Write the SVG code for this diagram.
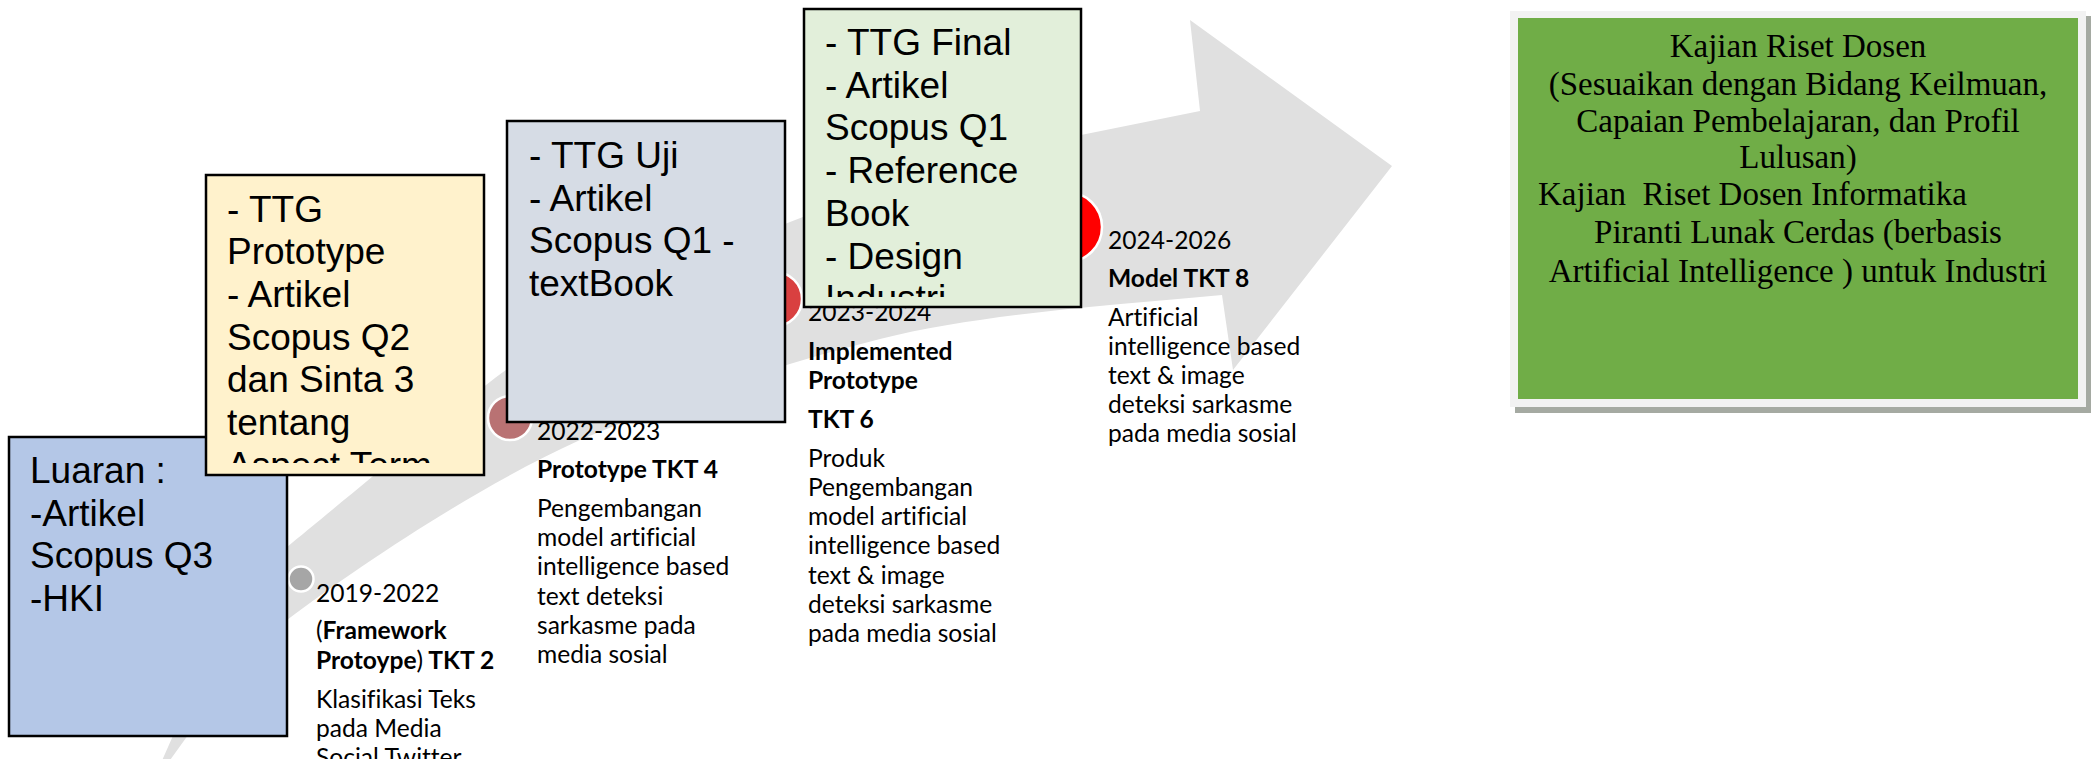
<svg xmlns="http://www.w3.org/2000/svg" width="2091" height="759" viewBox="0 0 2091 759">
<style>
.box{stroke:#000;stroke-width:2.5}
.big{font-family:"Liberation Sans",Arial,sans-serif;font-size:37px;fill:#000}
.sm{font-family:Lato,"Noto Sans",sans-serif;font-size:24.6px;fill:#000;font-variant-ligatures:none}
.b{font-weight:bold}
.n{font-weight:normal}
.serif{font-family:"Liberation Serif","Times New Roman",serif;font-size:33px;fill:#000}
.dot{stroke:#fff;stroke-width:2.5}
</style>
<defs>
<clipPath id="clipY"><rect x="206" y="175" width="278" height="288"/></clipPath>
<clipPath id="clipF"><rect x="804" y="9" width="277" height="288"/></clipPath>
</defs>
<rect width="2091" height="759" fill="#fff"/>
<g id="connectors">
<path id="arrow" fill="#e0e0e0" d="M 150 790 Q 205 650 287 547 C 330 512 440 420 495 378 C 580 314 700 258 790 222 C 890 182 1000 152 1081 135 L 1200 111 L 1190 20 L 1392 166 L 1233 370 L 1222 295 C 1112 305 980 314 880 339 C 780 364 680 398 580 440 C 480 485 357 567 287 620 Q 215 690 150 790 Z"/>
</g>
<g id="milestone1">
<circle class="dot" cx="301" cy="579" r="12.5" fill="#a6a6a6"/>
<text class="sm" x="316" y="602">2019-2022</text>
<text class="sm" x="316" y="639">(<tspan class="b">Framework</tspan></text>
<text class="sm b" x="316" y="669">Protoype<tspan class="n">)</tspan> TKT 2</text>
<text class="sm" x="316" y="708">Klasifikasi Teks</text>
<text class="sm" x="316" y="737">pada Media</text>
<text class="sm" x="316" y="766">Social Twitter</text>
</g>
<g id="milestone2">
<circle class="dot" cx="510" cy="418" r="22" fill="#b97273"/>
<text class="sm" x="537" y="440">2022-2023</text>
<text class="sm b" x="537" y="478">Prototype TKT 4</text>
<text class="sm" x="537" y="517">Pengembangan</text>
<text class="sm" x="537" y="546">model artificial</text>
<text class="sm" x="537" y="575">intelligence based</text>
<text class="sm" x="537" y="605">text deteksi</text>
<text class="sm" x="537" y="634">sarkasme pada</text>
<text class="sm" x="537" y="663">media sosial</text>
</g>
<g id="milestone3">
<circle class="dot" cx="775" cy="299" r="27" fill="#d94040"/>
<text class="sm" x="808" y="321">2023-2024</text>
<text class="sm b" x="808" y="360">Implemented</text>
<text class="sm b" x="808" y="389">Prototype</text>
<text class="sm b" x="808" y="428">TKT 6</text>
<text class="sm" x="808" y="467">Produk</text>
<text class="sm" x="808" y="496">Pengembangan</text>
<text class="sm" x="808" y="525">model artificial</text>
<text class="sm" x="808" y="554">intelligence based</text>
<text class="sm" x="808" y="584">text &amp; image</text>
<text class="sm" x="808" y="613">deteksi sarkasme</text>
<text class="sm" x="808" y="642">pada media sosial</text>
</g>
<g id="milestone4">
<circle class="dot" cx="1067" cy="227" r="35" fill="#ff0000"/>
<text class="sm" x="1108" y="249">2024-2026</text>
<text class="sm b" x="1108" y="287">Model TKT 8</text>
<text class="sm" x="1108" y="326">Artificial</text>
<text class="sm" x="1108" y="355">intelligence based</text>
<text class="sm" x="1108" y="384">text &amp; image</text>
<text class="sm" x="1108" y="413">deteksi sarkasme</text>
<text class="sm" x="1108" y="442">pada media sosial</text>
</g>
<g id="luaran">
<rect class="box" x="9" y="437" width="278" height="299" fill="#b4c7e7"/>
<text class="big" x="30" y="483">Luaran :</text>
<text class="big" x="30" y="526">-Artikel</text>
<text class="big" x="30" y="568">Scopus Q3</text>
<text class="big" x="30" y="611">-HKI</text>
</g>
<g id="ttg-prototype">
<rect class="box" x="206" y="175" width="278" height="300" fill="#fff2cc"/>
<g clip-path="url(#clipY)">
<text class="big" x="227" y="221.5">- TTG</text>
<text class="big" x="227" y="264.2">Prototype</text>
<text class="big" x="227" y="306.9">- Artikel</text>
<text class="big" x="227" y="349.6">Scopus Q2</text>
<text class="big" x="227" y="392.3">dan Sinta 3</text>
<text class="big" x="227" y="435">tentang</text>
<text class="big" x="227" y="477.7">Aspect Term</text>
</g>
</g>
<g id="ttg-uji">
<rect class="box" x="507" y="121" width="278" height="301" fill="#d6dce5"/>
<text class="big" x="529" y="168">- TTG Uji</text>
<text class="big" x="529" y="210.7">- Artikel</text>
<text class="big" x="529" y="253.4">Scopus Q1 -</text>
<text class="big" x="529" y="296.1">textBook</text>
</g>
<g id="ttg-final">
<rect class="box" x="804" y="9" width="277" height="298" fill="#e2efda"/>
<g clip-path="url(#clipF)">
<text class="big" x="825" y="55">- TTG Final</text>
<text class="big" x="825" y="97.7">- Artikel</text>
<text class="big" x="825" y="140.4">Scopus Q1</text>
<text class="big" x="825" y="183.1">- Reference</text>
<text class="big" x="825" y="225.8">Book</text>
<text class="big" x="825" y="268.5">- Design</text>
<text class="big" x="825" y="311.2">Industri</text>
</g>
</g>
<g id="kajian">
<rect x="1515" y="16" width="576" height="397" fill="#a5aaa2"/>
<rect x="1510" y="11" width="576" height="396" fill="#f2f2f2"/>
<rect x="1518" y="18" width="560" height="381" fill="#70ad47"/>
<text class="serif" x="1798" y="57" text-anchor="middle">Kajian Riset Dosen</text>
<text class="serif" x="1798" y="95" text-anchor="middle">(Sesuaikan dengan Bidang Keilmuan,</text>
<text class="serif" x="1798" y="132" text-anchor="middle">Capaian Pembelajaran, dan Profil</text>
<text class="serif" x="1798" y="168" text-anchor="middle">Lulusan)</text>
<text class="serif" x="1538" y="205" xml:space="preserve">Kajian  Riset Dosen Informatika</text>
<text class="serif" x="1798" y="243" text-anchor="middle">Piranti Lunak Cerdas (berbasis</text>
<text class="serif" x="1798" y="282" text-anchor="middle">Artificial Intelligence ) untuk Industri</text>
</g>
</svg>
